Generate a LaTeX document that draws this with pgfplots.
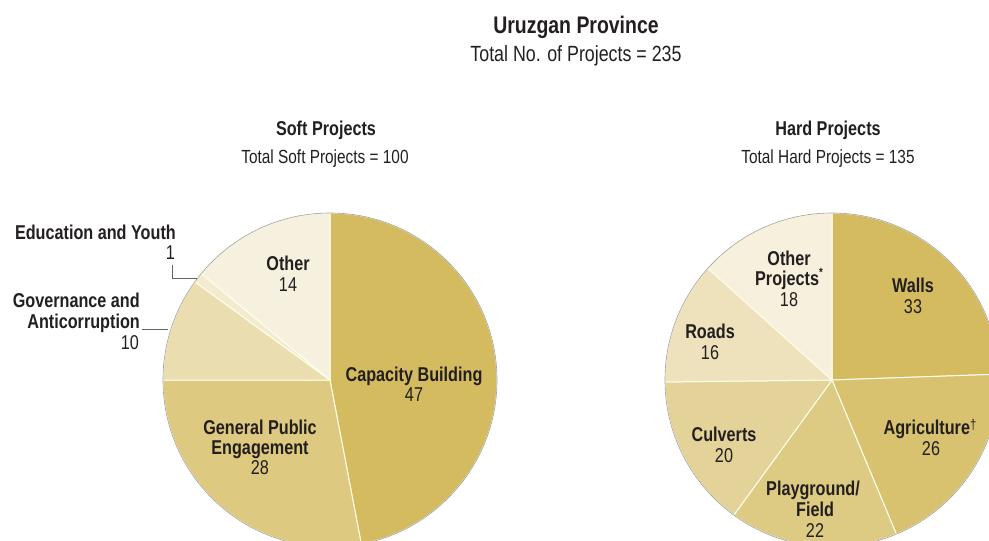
\documentclass[border=0pt]{standalone}
\usepackage{pgfplots}
\usepackage{pgfplotstable}
\pgfplotsset{compat=1.18}
\usepackage{fontspec}
\setmainfont{Liberation Sans}[FakeStretch=0.81]

\definecolor{ink}{HTML}{231F20}
\definecolor{rim}{HTML}{A0A0A0}
\definecolor{gold}{HTML}{D4BB60}

% shade = percent of gold mixed with white
\pgfplotstableread[col sep=comma]{
name,value,shade
Capacity Building,47,100
General Public Engagement,28,80
Governance and Anticorruption,10,50
Education and Youth,1,30
Other,14,20
}\softdata

\pgfplotstableread[col sep=comma]{
name,value,shade
Walls,33,100
Agriculture,26,90
Playground/Field,22,78
Culverts,20,65
Roads,16,43
Other Projects,18,22
}\harddata

% running sums -> start/end angle of each slice
\pgfplotstablecreatecol[create col/expr accum={\pgfmathaccuma+\thisrow{value}}{0}]{cum}{\softdata}
\pgfplotstablecreatecol[create col/expr accum={\pgfmathaccuma+\thisrow{value}}{0}]{cum}{\harddata}

\newcommand\pieR{167pt}
\pgfplotsset{
  pie slices/.style={% #1 = total
    only marks, scatter, mark=*, mark size=0pt,
    point meta min=0, point meta max=1000,
    visualization depends on={90-360*(\thisrow{cum}-\thisrow{value})/#1 \as \sa},
    visualization depends on={90-360*\thisrow{cum}/#1 \as \ea},
    visualization depends on={\thisrow{shade} \as \shd},
    scatter/@pre marker code/.code={%
      \pgfmathtruncatemacro\sh{\shd}%
      \fill[fill=gold!\sh!white, draw=white!92!yellow, line width=1pt]
        (0pt,0pt) -- (\sa:\pieR) arc[start angle=\sa, end angle=\ea, radius=\pieR] -- cycle;},
    scatter/@post marker code/.code={},
  },
  pie rim/.style={only marks, mark=o, mark size=\pieR, color=rim, mark options={line width=0.6pt}},
}
\tikzset{
  lab/.style={font=\fontsize{20}{22}\selectfont\bfseries, text=ink, inner sep=0pt, anchor=base},
  num/.style={font=\fontsize{20}{22}\selectfont, text=ink, inner sep=0pt, anchor=base},
}

\begin{document}
\begin{tikzpicture}
\begin{axis}[
  width=989pt, height=541pt, scale only axis,
  xmin=0, xmax=989, ymin=0, ymax=541, y dir=reverse,
  hide axis, clip marker paths=true,
]
\addplot[pie slices=100] table[x expr=330, y expr=380] {\softdata};
\addplot[pie rim] coordinates {(330,380)};
\addplot[pie slices=135] table[x expr=832, y expr=380] {\harddata};
\addplot[pie rim] coordinates {(832,380)};

% titles
\node[font=\fontsize{24}{28}\selectfont\bfseries, text=ink, anchor=base] at (axis cs:576,33) {Uruzgan Province};
\node[font=\fontsize{22}{26}\selectfont, text=ink, anchor=base] at (axis cs:576,61) {Total No. of Projects = 235};
\node[font=\fontsize{20}{22}\selectfont\bfseries, text=ink, anchor=base] at (axis cs:326,135) {Soft Projects};
\node[font=\fontsize{19}{21}\selectfont, text=ink, anchor=base] at (axis cs:325,163) {Total Soft Projects = 100};
\node[font=\fontsize{20}{22}\selectfont\bfseries, text=ink, anchor=base] at (axis cs:828,135) {Hard Projects};
\node[font=\fontsize{19}{21}\selectfont, text=ink, anchor=base] at (axis cs:828,163) {Total Hard Projects = 135};

% soft labels
\node[lab, anchor=base east] at (axis cs:176,239) {Education and Youth};
\node[num, anchor=base east] at (axis cs:175,259) {1};
\node[lab, anchor=base east] at (axis cs:140,307) {Governance and};
\node[lab, anchor=base east] at (axis cs:140,328) {Anticorruption};
\node[num, anchor=base east] at (axis cs:139,349) {10};
\draw[ink!70, line width=0.8pt] (axis cs:172,265) |- (axis cs:197,278);
\draw[ink!70, line width=0.8pt] (axis cs:142,329) -- (axis cs:168,329);
\node[lab] at (axis cs:288,270) {Other};
\node[num] at (axis cs:288,291) {14};
\node[lab] at (axis cs:260,434) {General Public};
\node[lab] at (axis cs:260,454) {Engagement};
\node[num] at (axis cs:260,474) {28};
\node[lab] at (axis cs:414,381) {Capacity Building};
\node[num] at (axis cs:414,401) {47};

% hard labels
\node[lab] at (axis cs:789,265) {Other};
\node[lab] at (axis cs:789,285) {Projects\raisebox{0.45em}{\fontsize{12}{12}\selectfont *}};
\node[num] at (axis cs:789,306) {18};
\node[lab] at (axis cs:913,292) {Walls};
\node[num] at (axis cs:913,313) {33};
\node[lab] at (axis cs:710,338) {Roads};
\node[num] at (axis cs:710,359) {16};
\node[lab] at (axis cs:724,441) {Culverts};
\node[num] at (axis cs:724,462) {20};
\node[lab] at (axis cs:930,434) {Agriculture\raisebox{0.25em}{\fontsize{14}{14}\selectfont\mdseries †}};
\node[num] at (axis cs:931,455) {26};
\node[lab] at (axis cs:813,495) {Playground/};
\node[lab] at (axis cs:815,516) {Field};
\node[num] at (axis cs:815,537) {22};
\end{axis}
\pgfresetboundingbox
\path[use as bounding box] (current axis.south west) rectangle (current axis.north east);
\end{tikzpicture}
\end{document}
